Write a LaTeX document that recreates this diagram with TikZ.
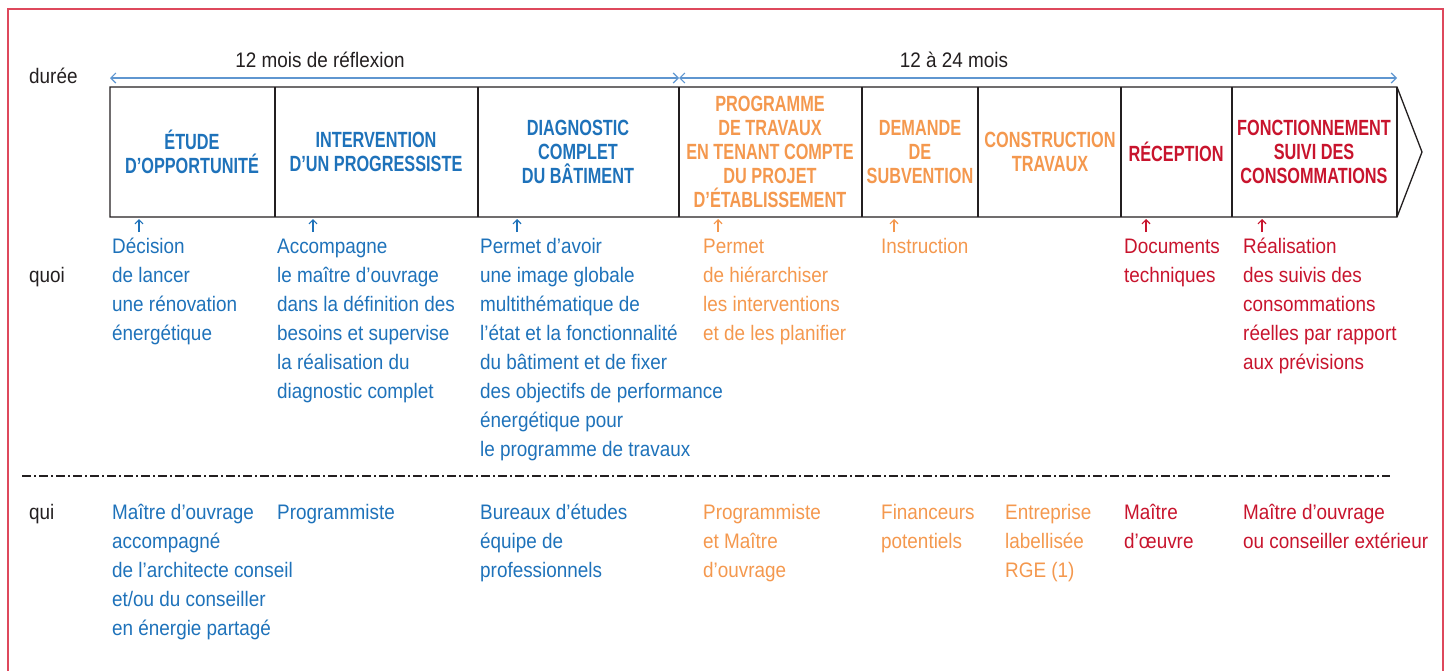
\documentclass[tikz,border=0pt]{standalone}
\usepackage{fontspec}
\setmainfont[FakeStretch=0.9]{Liberation Sans}
\newfontfamily\headfont[FakeStretch=0.74]{Liberation Sans}
\usetikzlibrary{arrows.meta}

\definecolor{bleu}{RGB}{30,114,186}
\definecolor{duree}{RGB}{95,150,208}
\definecolor{orange}{RGB}{244,152,78}
\definecolor{rouge}{RGB}{200,20,45}
\definecolor{cadre}{RGB}{222,72,92}
\definecolor{encre}{RGB}{35,31,32}

\begin{document}
\begin{tikzpicture}[x=1pt, y=-1pt,
	phase/.style={align=center, inner sep=0pt, font=\headfont\bfseries\fontsize{22}{24}\selectfont},
	quoi/.style={anchor=base west, align=left, inner sep=0pt, font=\fontsize{21}{29}\selectfont},
	pointer/.style={-{Straight Barb[length=4pt,width=8pt,line width=1.2pt]}, line width=1.2pt},
	span/.style={{Straight Barb[length=5pt,width=10pt]}-{Straight Barb[length=5pt,width=10pt]}, line width=1.2pt, color=duree}]
	\useasboundingbox (0,0) rectangle (1450,670);

	\draw[cadre, line width=2pt] (8,672) -- (8,9) -- (1443,9) -- (1443,672);

	\node[quoi, text=encre] (duree) at (29,83) {durée};
	\node[quoi, text=encre] (quoi) at (29,282) {quoi};
	\node[quoi, text=encre] (qui) at (29,519) {qui};

	\coordinate (d0) at (110,78);
	\coordinate (d1) at (679,78);
	\coordinate (d2) at (1397,78);
	\draw[span] (d0) -- (d1);
	\draw[span] (d1) -- (d2);
	\node[quoi, anchor=base, text=encre] (reflexion) at (320,67) {12 mois de réflexion};
	\node[quoi, anchor=base, text=encre] (travaux) at (954,67) {12 à 24 mois};

	\draw[encre, line width=1.3pt, line join=miter] (110,87) -- (1397,87) -- (1422,152) -- (1397,217) -- (110,217) -- cycle;
	\draw[encre, line width=1.3pt] (275,87) -- (275,217);
	\draw[encre, line width=1.3pt] (478,87) -- (478,217);
	\draw[encre, line width=1.3pt] (679,87) -- (679,217);
	\draw[encre, line width=1.3pt] (862,87) -- (862,217);
	\draw[encre, line width=1.3pt] (978,87) -- (978,217);
	\draw[encre, line width=1.3pt] (1121,87) -- (1121,217);
	\draw[encre, line width=1.3pt] (1232,87) -- (1232,217);
	\draw[encre, line width=1.3pt] (1397,87) -- (1397,217);

	\node[phase, text=bleu] (etude) at (192,152) {ÉTUDE\\D’OPPORTUNITÉ};
	\node[phase, text=bleu] (intervention) at (376,152) {INTERVENTION\\D’UN PROGRESSISTE};
	\node[phase, text=bleu] (diagnostic) at (578,152) {DIAGNOSTIC\\COMPLET\\DU BÂTIMENT};
	\node[phase, text=orange] (programme) at (770,152) {PROGRAMME\\DE TRAVAUX\\EN TENANT COMPTE\\DU PROJET\\D’ÉTABLISSEMENT};
	\node[phase, text=orange] (demande) at (920,152) {DEMANDE\\DE\\SUBVENTION};
	\node[phase, text=orange] (construction) at (1050,152) {CONSTRUCTION\\TRAVAUX};
	\node[phase, text=rouge] (reception) at (1176,152) {RÉCEPTION};
	\node[phase, text=rouge] (fonctionnement) at (1314,152) {FONCTIONNEMENT\\SUIVI DES\\CONSOMMATIONS};

	\coordinate (p1) at (139,232);
	\coordinate (p2) at (313,232);
	\coordinate (p3) at (517,232);
	\coordinate (p4) at (718,232);
	\coordinate (p5) at (894,232);
	\coordinate (p6) at (1146,232);
	\coordinate (p7) at (1262,232);
	\draw[pointer, bleu] (p1) -- ++(0,-13);
	\draw[pointer, bleu] (p2) -- ++(0,-13);
	\draw[pointer, bleu] (p3) -- ++(0,-13);
	\draw[pointer, orange] (p4) -- ++(0,-13);
	\draw[pointer, orange] (p5) -- ++(0,-13);
	\draw[pointer, rouge] (p6) -- ++(0,-13);
	\draw[pointer, rouge] (p7) -- ++(0,-13);

	\node[quoi, text=bleu] (quoi1) at (112,340) {Décision\\de lancer\\une rénovation\\énergétique};
	\node[quoi, text=bleu] (quoi2) at (277,398) {Accompagne\\le maître d’ouvrage\\dans la définition des\\besoins et supervise\\la réalisation du\\diagnostic complet};
	\node[quoi, text=bleu] (quoi3) at (480,456) {Permet d’avoir\\une image globale\\multithématique de\\l’état et la fonctionnalité\\du bâtiment et de fixer\\des objectifs de performance\\énergétique pour\\le programme de travaux};
	\node[quoi, text=orange] (quoi4) at (703,340) {Permet\\de hiérarchiser\\les interventions\\et de les planifier};
	\node[quoi, text=orange] (quoi5) at (881,253) {Instruction};
	\node[quoi, text=rouge] (quoi7) at (1124,282) {Documents\\techniques};
	\node[quoi, text=rouge] (quoi8) at (1243,369) {Réalisation\\des suivis des\\consommations\\réelles par rapport\\aux prévisions};

	\coordinate (s0) at (22,476);
	\coordinate (s1) at (1390,476);
	\draw[encre, line width=1.2pt, dash pattern=on 9pt off 3pt on 2pt off 3pt] (s0) -- (s1);

	\node[quoi, text=bleu] (qui1) at (112,635) {Maître d’ouvrage\\accompagné\\de l’architecte conseil\\et/ou du conseiller\\en énergie partagé};
	\node[quoi, text=bleu] (qui2) at (277,519) {Programmiste};
	\node[quoi, text=bleu] (qui3) at (480,577) {Bureaux d’études\\équipe de\\professionnels};
	\node[quoi, text=orange] (qui4) at (703,577) {Programmiste\\et Maître\\d’ouvrage};
	\node[quoi, text=orange] (qui5) at (881,548) {Financeurs\\potentiels};
	\node[quoi, text=orange] (qui6) at (1005,577) {Entreprise\\labellisée\\RGE (1)};
	\node[quoi, text=rouge] (qui7) at (1124,548) {Maître\\d’œuvre};
	\node[quoi, text=rouge] (qui8) at (1243,548) {Maître d’ouvrage\\ou conseiller extérieur};

\end{tikzpicture}
\end{document}
